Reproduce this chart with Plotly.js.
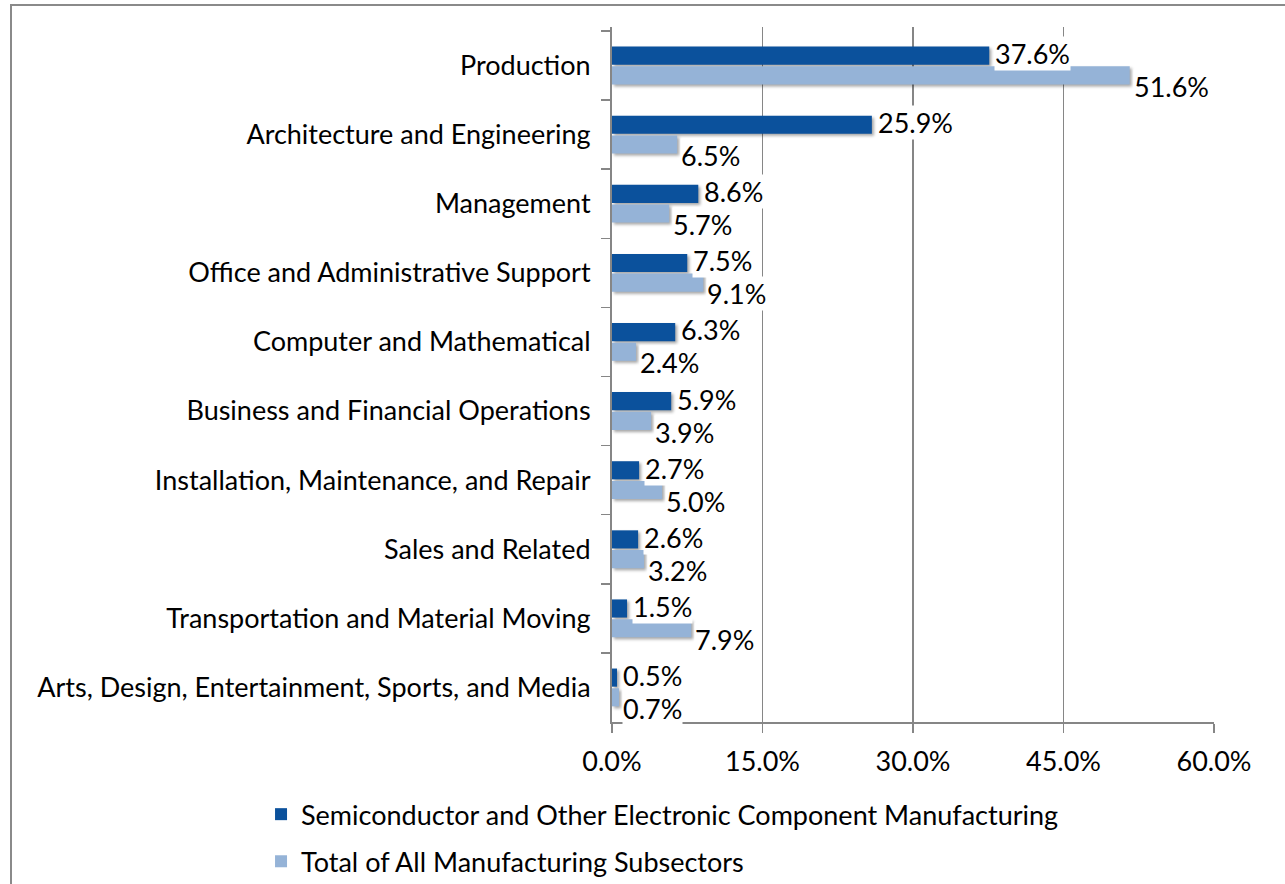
<!DOCTYPE html>
<html>
<head>
<meta charset="utf-8">
<script src="https://cdn.plot.ly/plotly-3.0.1.min.js"></script>
<style>
  html, body { margin: 0; padding: 0; background: #fff; }
  #wrap { position: relative; width: 1285px; height: 884px; overflow: hidden; }
  #frame { position: absolute; left: 10px; top: 4px; width: 1400px; height: 1000px;
           border-left: 2px solid #8a8a8a; border-top: 2px solid #8a8a8a; pointer-events: none; z-index: 5; }
  #chart { position: absolute; left: 0; top: 0; width: 1285px; height: 884px; }
  #chart .barlayer .point path { filter: drop-shadow(2px 2px 1.5px rgba(0,0,0,0.35)); }
</style>
</head>
<body>
<div id="wrap">
  <div id="chart"></div>
  <div id="frame"></div>
</div>
<script>
const categories = [
  "Production",
  "Architecture and Engineering",
  "Management",
  "Office and Administrative Support",
  "Computer and Mathematical",
  "Business and Financial Operations",
  "Installation, Maintenance, and Repair",
  "Sales and Related",
  "Transportation and Material Moving",
  "Arts, Design, Entertainment, Sports, and Media"
];
const semiconductor = [37.6, 25.9, 8.6, 7.5, 6.3, 5.9, 2.7, 2.6, 1.5, 0.5];
const totalManufacturing = [51.6, 6.5, 5.7, 9.1, 2.4, 3.9, 5.0, 3.2, 7.9, 0.7];
const seriesNames = [
  "Semiconductor and Other Electronic Component Manufacturing",
  "Total of All Manufacturing Subsectors"
];
const xTicks = [0, 15, 30, 45, 60];

const FONT = "Lato, 'Noto Sans', sans-serif";
const FS = 27;

const traces = [
  { type: "bar", orientation: "h", name: seriesNames[0], y: categories, x: semiconductor,
    marker: { color: "#0B519C", line: { width: 0 } }, legendgroup: "a", hoverinfo: "x+y" },
  { type: "bar", orientation: "h", name: seriesNames[1], y: categories, x: totalManufacturing,
    marker: { color: "#95B3D7", line: { width: 0 } }, legendgroup: "b", hoverinfo: "x+y" }
];

const annotations = [];
categories.forEach((c, i) => {
  annotations.push({ x: semiconductor[i], y: c, xref: "x", yref: "y",
    text: semiconductor[i].toFixed(1) + "%", showarrow: false,
    xanchor: "left", yanchor: "middle", xshift: 5, yshift: 12,
    bgcolor: "#ffffff", borderpad: 0, font: { family: FONT, size: FS, color: "#000" } });
});
categories.forEach((c, i) => {
  annotations.push({ x: totalManufacturing[i], y: c, xref: "x", yref: "y",
    text: totalManufacturing[i].toFixed(1) + "%", showarrow: false,
    xanchor: "left", yanchor: "middle", xshift: 3, yshift: -21,
    bgcolor: "#ffffff", borderpad: 0, font: { family: FONT, size: FS, color: "#000" } });
});

const layout = {
  width: 1285, height: 884,
  margin: { l: 612, r: 71, t: 27, b: 162, pad: 0, autoexpand: false },
  paper_bgcolor: "#ffffff", plot_bgcolor: "#ffffff",
  font: { family: FONT, size: FS, color: "#000" },
  barmode: "group", bargap: 0.43, bargroupgap: 0.08,
  showlegend: true,
  legend: { x: -0.583, y: -0.098, xanchor: "left", yanchor: "top", orientation: "v",
            font: { family: FONT, size: FS, color: "#000" }, tracegroupgap: 9,
            bgcolor: "rgba(0,0,0,0)", itemwidth: 30 },
  xaxis: { range: [0, 60], tickvals: xTicks, ticktext: xTicks.map(v => v.toFixed(1) + "%"),
           showgrid: true, gridcolor: "#868686", gridwidth: 1.5, zeroline: false,
           showline: true, linecolor: "#868686", linewidth: 1.5, automargin: false,
           ticks: "outside", ticklen: 9, tickcolor: "#868686", tickwidth: 1.5,
           ticklabelstandoff: 6, fixedrange: true },
  yaxis: { type: "category", autorange: "reversed", tickson: "boundaries",
           showgrid: false, zeroline: false, automargin: false,
           showline: true, linecolor: "#868686", linewidth: 2,
           ticks: "outside", ticklen: 9, tickcolor: "#868686", tickwidth: 1.5,
           ticklabelstandoff: 14, fixedrange: true },
  annotations: annotations
};

Plotly.newPlot("chart", traces, layout, { displayModeBar: false, staticPlot: true });
</script>
</body>
</html>
